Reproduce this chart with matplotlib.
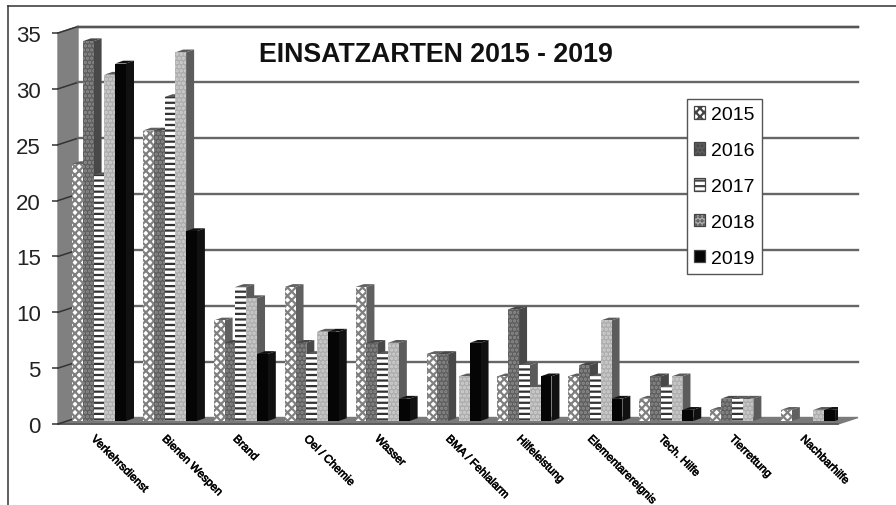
import numpy as np
import matplotlib
matplotlib.use('Agg')
import matplotlib.pyplot as plt
import matplotlib.patheffects as pe
from matplotlib.lines import Line2D
from matplotlib.transforms import ScaledTranslation

plt.rcParams['font.family'] = ['Liberation Sans', 'DejaVu Sans']
plt.rcParams['hatch.linewidth'] = 1.6

categories = ['Verkehrsdienst', 'Bienen Wespen', 'Brand', 'Oel / Chemie', 'Wasser',
              'BMA / Fehlalarm', 'Hilfeleistung', 'Elementarereignis', 'Tech. Hilfe',
              'Tierrettung', 'Nachbarhilfe']
y2015 = [23, 26, 9, 12, 12, 6, 4, 4, 2, 1, 1]
y2016 = [34, 26, 7, 7, 7, 6, 10, 5, 4, 2, 0]
y2017 = [22, 29, 12, 6, 6, 0, 5, 4, 3, 2, 0]
y2018 = [31, 33, 11, 8, 7, 4, 3, 9, 4, 2, 1]
y2019 = [32, 17, 6, 8, 2, 7, 4, 2, 1, 0, 1]
yticks = [0, 5, 10, 15, 20, 25, 30, 35]

series = [('2015', y2015), ('2016', y2016), ('2017', y2017), ('2018', y2018), ('2019', y2019)]
# front colour, hatch, hatch colour, side colour
styles = [('white', 'xxxx', '#808080', '#606060'),
          ('#5e5e5e', '....', '#8c8c8c', '#484848'),
          ('white', '---', '#333333', '#5a5a5a'),
          ('#adadad', '....', '#d0d0d0', '#5c5c5c'),
          ('#050505', None, '#050505', '#111111')]

W, H = 896, 506
fig = plt.figure(figsize=(W / 100, H / 100), dpi=100)
ax = fig.add_axes([58 / W, (H - 425) / H, 780 / W, 391 / H])
ax.set_xlim(0, 11)
ax.set_ylim(0, 35)
for s in ax.spines.values():
    s.set_visible(False)

# pixels to data units, the 3D look is just offsets
px = 11 / 780
py = 35 / 391
back_x, back_y = 20 * px, 6.5 * py

# walls and floor
ax.fill([0, back_x, back_x, 0], [0, back_y, 35 + back_y, 35], color='#808080', clip_on=False, zorder=1)
ax.fill([0, 11, 11 + back_x, back_x], [0, 0, back_y, back_y], color='#7a7a7a', clip_on=False, zorder=1)
ax.plot([0, 11], [0, 0], color='#555555', lw=1.2, clip_on=False, zorder=2)
for v in yticks:
    ax.plot([0, back_x], [v, v + back_y], color='#333333', lw=1.1, clip_on=False, zorder=2)
    if v > 0:
        ax.plot([back_x, 11 + back_x], [v + back_y, v + back_y], color='#666666', lw=1.7,
                clip_on=False, zorder=2)
ax.plot([back_x, 11 + back_x], [35 + back_y, 35 + back_y], color='#555555', lw=1.7, clip_on=False, zorder=2)

# bars, left to right so the later ones hide the sides of the earlier ones
bar_w = 10.8 * px
off_x, off_y = 6 * px, 3 * py
side_x, side_y = 8 * px, 2.8 * py
first_bars = []
z = 3
for i in range(len(categories)):
    for j, (name, vals) in enumerate(series):
        v = vals[i]
        face, hatch, hcol, side = styles[j]
        left = i + 8 * px + off_x + j * bar_w
        b = ax.bar(left, v, bar_w, bottom=off_y, align='edge', color=face, hatch=hatch,
                   edgecolor=hcol, linewidth=0, zorder=z + 1, label=name)
        if i == 0:
            first_bars.append(b)
        if v > 0:
            right = left + bar_w
            top = v + off_y
            ax.fill([right, right + side_x, right + side_x, right],
                    [off_y, off_y + side_y, top + side_y, top], color=side, zorder=z, lw=0)
            ax.fill([left, right, right + side_x, left + side_x],
                    [top, top, top + side_y, top + side_y], color=side, zorder=z, lw=0)
        z += 2

ax.set_yticks(yticks)
ax.tick_params(axis='y', length=4.5, width=1.1, color='#333333', labelsize=16, pad=8, labelcolor='#222222')
ax.set_xticks(np.arange(len(categories)) + 0.5)
ax.set_xticklabels(categories, rotation=-45, ha='left', va='top', rotation_mode='anchor', fontsize=8.2)
ax.tick_params(axis='x', length=0, pad=7)
shift = ScaledTranslation(3 / 100, 0, fig.dpi_scale_trans)
for lab in ax.get_xticklabels():
    lab.set_transform(lab.get_transform() + shift)
    lab.set_color('black')
    lab.set_path_effects([pe.withStroke(linewidth=0.5, foreground='#222222')])

fig.text(259 / W, (H - 55) / H, 'EINSATZARTEN 2015 - 2019', fontsize=19.3, fontweight='bold',
         ha='left', va='center', color='#111111')

leg = ax.legend(first_bars, [n for n, _ in series], loc='upper left',
                bbox_to_anchor=(687 / W, (H - 100) / H), bbox_transform=fig.transFigure,
                borderaxespad=0, fontsize=14, fancybox=False, framealpha=1, edgecolor='#555555',
                handlelength=0.55, handleheight=0.6, handletextpad=0.3, labelspacing=0.97,
                borderpad=0.38)
leg.get_frame().set_linewidth(1.0)
leg.set_zorder(500)
for h in leg.legend_handles:
    h.set_linewidth(0.9)
    h.set_edgecolor('#444444')

# outer frame, only top and left are in the scan
fig.add_artist(Line2D([8 / W, 8 / W], [0, (H - 7) / H], color='#333333', lw=1.1))
fig.add_artist(Line2D([8 / W, 1], [(H - 7) / H, (H - 7) / H], color='#333333', lw=1.1))

fig.savefig('out.png', dpi=100)
